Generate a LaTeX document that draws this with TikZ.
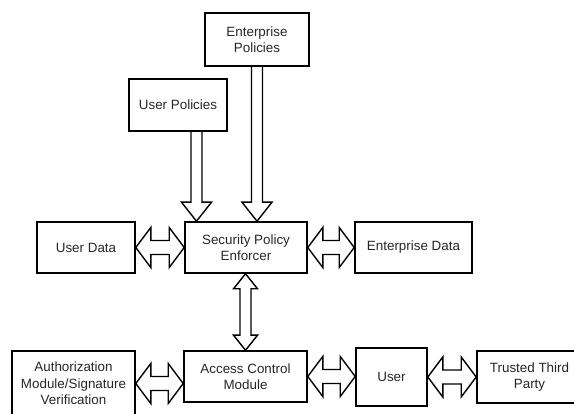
\documentclass[tikz,border=0pt]{standalone}
\usepackage{fontspec}
\setmainfont{Liberation Sans}
\usetikzlibrary{calc}
\tikzset{
  box/.style={draw, line width=1.6pt, inner sep=0pt, align=center, text=black!85,
    font=\fontsize{13.4}{16.5}\selectfont},
  arrline/.style={draw, line width=1.4pt, line join=miter}
}
% single arrow pointing down: #1 = top of shaft, #2 = tip
\newcommand\DArr[2]{\path[arrline] let \p1=(#1), \p2=(#2) in
  (\x1-5.5pt,\y1) -- (\x1-5.5pt,\y2+19pt) -- (\x1-15pt,\y2+19pt) -- (\x1,\y2)
  -- (\x1+15pt,\y2+19pt) -- (\x1+5.5pt,\y2+19pt) -- (\x1+5.5pt,\y1);}
% vertical double arrow: #1 = lower tip, #2 = upper tip
\newcommand\VArr[2]{\path[arrline] let \p1=(#1), \p2=(#2) in
  (\x1,\y1) -- (\x1-12pt,\y1+15pt) -- (\x1-5.5pt,\y1+15pt) -- (\x1-5.5pt,\y2-15pt)
  -- (\x1-12pt,\y2-15pt) -- (\x1,\y2) -- (\x1+12pt,\y2-15pt) -- (\x1+5.5pt,\y2-15pt)
  -- (\x1+5.5pt,\y1+15pt) -- (\x1+12pt,\y1+15pt) -- cycle;}
% horizontal double arrow: #1 = left tip, #2 = right tip
\newcommand\HArr[2]{\path[arrline] let \p1=(#1), \p2=(#2) in
  (\x1,\y1) -- (\x1+15pt,\y1+20pt) -- (\x1+15pt,\y1+7pt) -- (\x2-15pt,\y1+7pt)
  -- (\x2-15pt,\y1+20pt) -- (\x2,\y1) -- (\x2-15pt,\y1-20pt) -- (\x2-15pt,\y1-7pt)
  -- (\x1+15pt,\y1-7pt) -- (\x1+15pt,\y1-20pt) -- cycle;}
\begin{document}
\begin{tikzpicture}[x=1pt,y=-1pt]
\useasboundingbox (0,0) rectangle (574,414);
\node[box, minimum width=104, minimum height=53] (ep) at (257,39.5) {Enterprise\\Policies};
\node[box, minimum width=98, minimum height=52] (up) at (178,105) {User Policies};
\node[box, minimum width=98, minimum height=51] (ud) at (86,247.5) {User Data};
\node[box, minimum width=122, minimum height=51] (spe) at (246,247.5) {Security Policy\\Enforcer};
\node[box, minimum width=117, minimum height=51] (ed) at (413.5,247.5) {Enterprise Data};
\node[box, minimum width=123, minimum height=65] (auth) at (73.5,383.5) {Authorization\\Module/Signature\\Verification};
\node[box, minimum width=123, minimum height=51] (acm) at (245.5,376.5) {Access Control\\Module};
\node[box, minimum width=71, minimum height=58] (user) at (391.5,377) {User};
\node[box, minimum width=105, minimum height=52] (ttp) at (529.5,377) {Trusted Third\\Party};
\coordinate (t1) at ($(spe.north)+(-49.5,0)$);
\DArr{up.south -| t1}{t1}
\DArr{ep.south}{ep.south |- spe.north}
\VArr{acm.north}{spe.south}
\HArr{ud.east}{spe.west}
\HArr{spe.east}{ed.west}
\HArr{auth.east}{acm.west}
\HArr{acm.east}{user.west}
\HArr{user.east}{ttp.west}
\end{tikzpicture}
\end{document}
